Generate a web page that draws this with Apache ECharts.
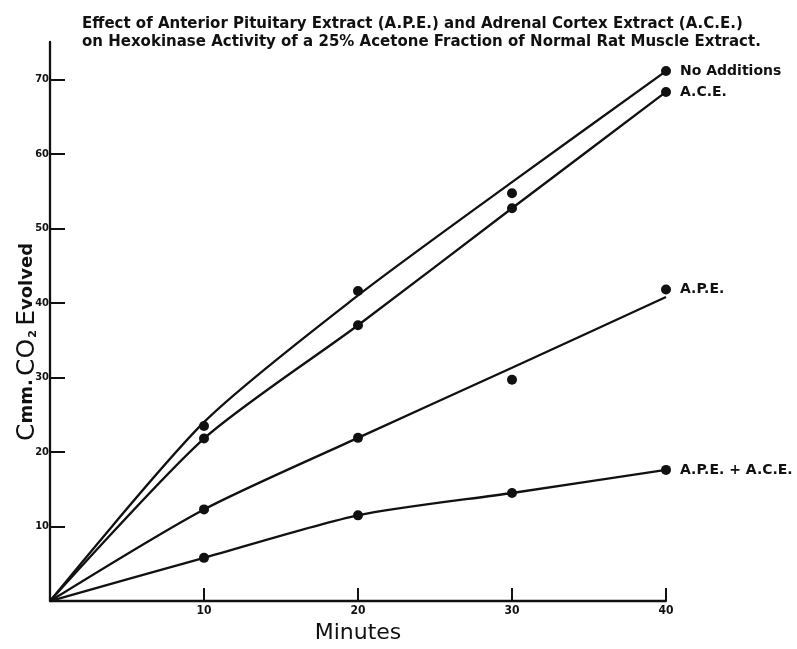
<!DOCTYPE html>
<html>
<head>
<meta charset="utf-8">
<script src="https://cdn.jsdelivr.net/npm/echarts@6/dist/echarts.min.js"></script>
<style>
  html, body { margin: 0; padding: 0; background: #fff; }
  #chart { width: 797px; height: 649px; }
</style>
</head>
<body>
<div id="chart"></div>
<script>
// Minutes of incubation
const minutes = [0, 10, 20, 30, 40];

// Measured CO2 (cmm.) for each condition
const noAdditions = [0, 23.5, 41.6, 54.7, 71.1];
const ace = [0, 21.8, 37.0, 52.7, 68.3];
const ape = [0, 12.3, 21.9, 29.7, 41.8];
const apeAce = [0, 5.8, 11.5, 14.5, 17.6];

// Smoothed curves drawn through the measurements
const noAdditionsCurve = [0, 24.0, 41.0, 56.2, 71.1];
const aceCurve = [0, 21.8, 37.0, 52.7, 68.3];
const apeCurve = [0, 12.3, 21.9, 31.3, 40.8];
const apeAceCurve = [0, 5.8, 11.5, 14.5, 17.6];

const seriesNames = ['No Additions', 'A.C.E.', 'A.P.E.', 'A.P.E. + A.C.E.'];
const yTicks = [10, 20, 30, 40, 50, 60, 70];
const xTicks = [10, 20, 30, 40];

const titleLines = [
  'Effect of Anterior Pituitary Extract (A.P.E.) and Adrenal Cortex Extract (A.C.E.)',
  'on Hexokinase Activity of a 25% Acetone Fraction of Normal Rat Muscle Extract.'
];

const ink = '#111';
const pair = (xs, ys) => xs.map((x, i) => [x, ys[i]]);

function curve(name, ys) {
  return {
    name: name + ' curve',
    type: 'line',
    data: pair(minutes, ys),
    smooth: 0.25,
    showSymbol: false,
    lineStyle: { color: ink, width: 2.3 },
    silent: true,
    z: 2
  };
}

function points(name, ys) {
  return {
    name: name,
    type: 'scatter',
    data: pair(minutes, ys).slice(1),
    symbol: 'circle',
    symbolSize: 10,
    itemStyle: { color: ink, opacity: 1 },
    label: {
      show: true,
      position: 'right',
      distance: 9,
      color: ink,
      opacity: 1,
      fontFamily: 'DejaVu Sans',
      fontWeight: 'bold',
      fontSize: 14,
      formatter: p => (p.data[0] === minutes[minutes.length - 1] ? p.seriesName : '')
    },
    z: 3
  };
}

const chart = echarts.init(document.getElementById('chart'), null, { renderer: 'canvas' });

chart.setOption({
  animation: false,
  backgroundColor: '#fff',
  title: {
    text: titleLines.join('\n'),
    left: 82,
    top: 15,
    padding: 0,
    textStyle: {
      fontFamily: 'DejaVu Sans',
      fontWeight: 'bold',
      fontSize: 15,
      lineHeight: 18,
      color: ink
    }
  },
  // Vertical axis caption, lettered upward beside the axis
  graphic: [{
    type: 'text',
    x: 27,
    y: 342,
    rotation: Math.PI / 2,
    style: {
      text: '{big|C}{small|mm.} {big|CO}{sub|2} {big|E}{small|volved}',
      align: 'center',
      verticalAlign: 'middle',
      rich: {
        big: { fontFamily: 'DejaVu Sans', fontSize: 25, fill: ink },
        small: { fontFamily: 'DejaVu Sans', fontSize: 18, fontWeight: 'bold', fill: ink },
        sub: { fontFamily: 'DejaVu Sans', fontSize: 11, fontWeight: 'bold', fill: ink, padding: [12, 1, 0, 1] }
      }
    }
  }],
  grid: { left: 50, right: 131, top: 42, bottom: 36 },
  xAxis: {
    type: 'value',
    min: 0,
    max: 40,
    interval: 10,
    name: 'Minutes',
    nameLocation: 'middle',
    nameGap: 16,
    nameTextStyle: { fontFamily: 'DejaVu Sans', fontSize: 22, color: ink, verticalAlign: 'top' },
    axisLine: { lineStyle: { color: ink, width: 2.3 } },
    axisTick: { show: true, inside: true, length: 13, customValues: xTicks, lineStyle: { color: ink, width: 2 } },
    axisLabel: {
      customValues: xTicks,
      margin: 4,
      color: ink,
      fontFamily: 'DejaVu Sans Condensed',
      fontWeight: 'bold',
      fontSize: 12
    },
    splitLine: { show: false }
  },
  yAxis: {
    type: 'value',
    min: 0,
    max: 75,
    interval: 10,
    axisLine: { show: true, lineStyle: { color: ink, width: 2.3 } },
    axisTick: { show: true, inside: true, length: 15, customValues: yTicks, lineStyle: { color: ink, width: 2 } },
    axisLabel: {
      customValues: yTicks,
      margin: 1,
      color: ink,
      fontFamily: 'DejaVu Sans Condensed',
      fontWeight: 'bold',
      fontSize: 11
    },
    splitLine: { show: false }
  },
  series: [
    curve(seriesNames[0], noAdditionsCurve),
    curve(seriesNames[1], aceCurve),
    curve(seriesNames[2], apeCurve),
    curve(seriesNames[3], apeAceCurve),
    points(seriesNames[0], noAdditions),
    points(seriesNames[1], ace),
    points(seriesNames[2], ape),
    points(seriesNames[3], apeAce)
  ]
});
</script>
</body>
</html>
